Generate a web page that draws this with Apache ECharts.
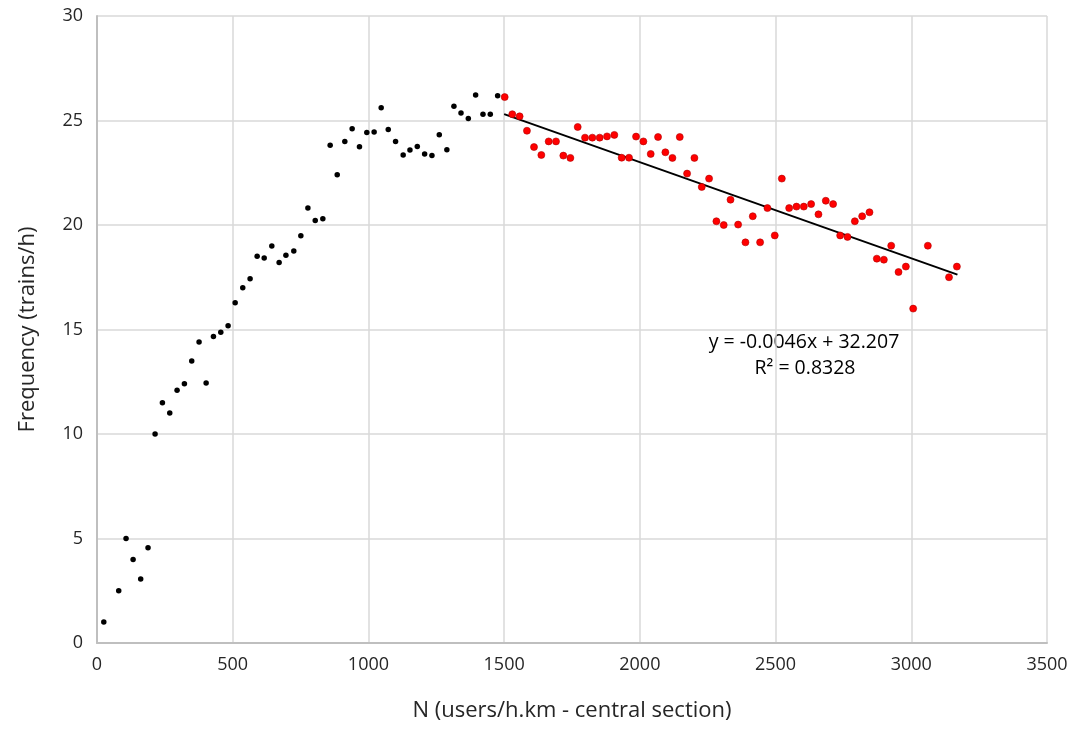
<!DOCTYPE html>
<html>
<head>
<meta charset="utf-8">
<script src="https://cdn.jsdelivr.net/npm/echarts@6/dist/echarts.min.js"></script>
<style>
  html, body { margin: 0; padding: 0; background: #fff; }
  #main { width: 1080px; height: 730px; }
</style>
</head>
<body>
<div id="main"></div>
<script>
// black points (N < 1500)
var blackX = [25, 80, 107, 133, 161, 188, 214, 241, 268, 295, 322, 349, 376, 402, 429, 456, 483, 509, 537, 564,
  590, 616, 644, 671, 696, 725, 751, 777, 804, 832, 859, 885, 913, 940, 967, 994, 1021,
  1047, 1073, 1100, 1128, 1153, 1180, 1207, 1234, 1261, 1289, 1315, 1341, 1368, 1395, 1422, 1449, 1476];
var blackY = [1.0, 2.5, 5.0, 4.0, 3.06, 4.56, 10.0, 11.5, 11.0, 12.09, 12.41, 13.49, 14.4, 12.44, 14.66, 14.87, 15.18, 16.28, 17.0, 17.43,
  18.5, 18.42, 19.0, 18.2, 18.55, 18.76, 19.49, 20.81, 20.22, 20.3, 23.81, 22.41, 24.0, 24.61, 23.75, 24.42, 24.45,
  25.61, 24.57, 24.0, 23.35, 23.59, 23.76, 23.4, 23.32, 24.32, 23.6, 25.68, 25.36, 25.1, 26.22, 25.3, 25.3, 26.19];

// red points (N >= 1500)
var redX = [1502, 1530, 1557, 1584, 1610, 1637, 1664, 1691, 1718, 1744, 1771, 1798, 1825, 1852, 1879, 1906,
  1933, 1960, 1986, 2013, 2040, 2067, 2094, 2120, 2147, 2174, 2201, 2228, 2255, 2282, 2309, 2334, 2362,
  2389, 2416, 2443, 2470, 2497, 2523, 2550, 2577, 2604, 2631, 2658, 2685, 2712, 2738, 2765, 2792, 2819,
  2846, 2873, 2899, 2926, 2953, 2980, 3007, 3061, 3139, 3168];
var redY = [26.12, 25.3, 25.2, 24.51, 23.73, 23.35, 24.0, 24.0, 23.32, 23.21, 24.69, 24.18, 24.18, 24.18, 24.24, 24.31,
  23.22, 23.22, 24.23, 24.0, 23.4, 24.21, 23.48, 23.21, 24.21, 22.46, 23.21, 21.82, 22.22, 20.18, 20.0, 21.21, 20.02,
  19.17, 20.42, 19.17, 20.81, 19.5, 22.22, 20.81, 20.88, 20.88, 21.0, 20.51, 21.16, 21.0, 19.5, 19.43, 20.18, 20.42,
  20.61, 18.39, 18.34, 19.01, 17.75, 18.01, 16.0, 19.01, 17.5, 18.01];

// linear trend on the red points
var trendSlope = -0.0046;
var trendIntercept = 32.207;
var trendRange = [1500, 3170];
var trendLabel = ['y = -0.0046x + 32.207', 'R² = 0.8328'];

function zip(xs, ys) {
  var out = [];
  for (var i = 0; i < xs.length; i++) out.push([xs[i], ys[i]]);
  return out;
}

var trendData = trendRange.map(function (x) { return [x, trendSlope * x + trendIntercept]; });

var font = 'Open Sans';
var myChart = echarts.init(document.getElementById('main'));
var option = {
  animation: false,
  backgroundColor: '#ffffff',
  grid: { left: 97, right: 33, top: 16, bottom: 87 },
  xAxis: {
    type: 'value', min: 0, max: 3500, interval: 500,
    name: 'N (users/h.km - central section)',
    nameLocation: 'middle', nameGap: 57,
    nameTextStyle: { fontFamily: font, fontSize: 22, color: '#262626' },
    axisLine: { show: true, lineStyle: { color: '#bfbfbf', width: 2 } },
    axisTick: { show: false },
    axisLabel: { fontFamily: font, fontSize: 18, color: '#262626', margin: 13,
      formatter: function (v) { return String(v); } },
    splitLine: { show: true, lineStyle: { color: '#d9d9d9', width: 1.5 } }
  },
  yAxis: {
    type: 'value', min: 0, max: 30, interval: 5,
    name: 'Frequency (trains/h)',
    nameLocation: 'middle', nameGap: 58, nameRotate: 90,
    nameTextStyle: { fontFamily: font, fontSize: 22, color: '#262626' },
    axisLine: { show: true, lineStyle: { color: '#bfbfbf', width: 2 } },
    axisTick: { show: false },
    axisLabel: { fontFamily: font, fontSize: 18, color: '#262626', margin: 14 },
    splitLine: { show: true, lineStyle: { color: '#d9d9d9', width: 1.5 } }
  },
  series: [
    {
      type: 'scatter', data: zip(blackX, blackY), symbolSize: 5.5,
      itemStyle: { color: '#000000', opacity: 1 }
    },
    {
      type: 'scatter', data: zip(redX, redY), symbolSize: 7,
      itemStyle: { color: '#ff0000', borderColor: '#b00000', borderWidth: 0.6, opacity: 1 }
    },
    {
      type: 'line', data: trendData, symbol: 'none', z: 1,
      lineStyle: { color: '#000000', width: 2 }
    }
  ],
  graphic: [
    {
      type: 'text', x: 804, y: 342,
      style: { text: trendLabel[0], fontFamily: font, fontSize: 19.5, fill: '#000000',
        align: 'center', verticalAlign: 'middle' }
    },
    {
      type: 'text', x: 805, y: 368,
      style: { text: trendLabel[1], fontFamily: font, fontSize: 19.5, fill: '#000000',
        align: 'center', verticalAlign: 'middle' }
    }
  ]
};
myChart.setOption(option);
</script>
</body>
</html>
